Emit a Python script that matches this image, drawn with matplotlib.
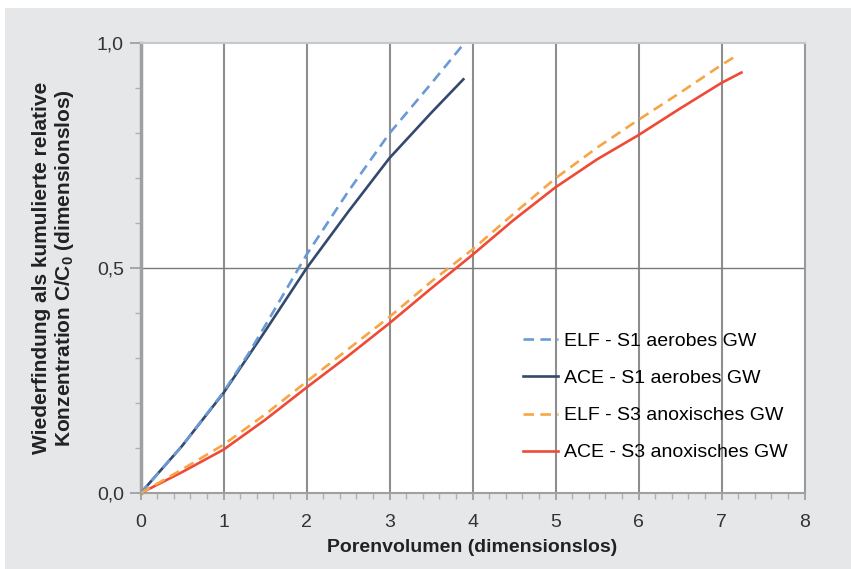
import matplotlib
matplotlib.use("Agg")
import matplotlib.pyplot as plt
from matplotlib.patches import Rectangle
from matplotlib.ticker import MultipleLocator, FuncFormatter

# Porenvolumen (x) und kumulierte relative Konzentration (y)
elf_s1_x = [0, 0.5, 1.0, 1.3, 1.5, 2.0, 2.5, 3.0, 3.5, 3.9]
elf_s1_y = [0, 0.105, 0.225, 0.31, 0.372, 0.53, 0.67, 0.80, 0.91, 1.0]

ace_s1_x = [0, 0.5, 1.0, 1.5, 2.0, 2.5, 3.0, 3.5, 3.89]
ace_s1_y = [0, 0.105, 0.223, 0.36, 0.50, 0.625, 0.745, 0.845, 0.92]

elf_s3_x = [0, 0.5, 1.0, 1.5, 2.0, 2.5, 3.0, 3.5, 4.0, 4.5, 5.0, 5.5, 6.0, 6.5, 7.0, 7.16]
elf_s3_y = [0, 0.053, 0.108, 0.175, 0.248, 0.32, 0.392, 0.47, 0.542, 0.622, 0.70,
            0.768, 0.83, 0.89, 0.952, 0.97]

ace_s3_x = [0, 0.5, 1.0, 1.5, 2.0, 2.5, 3.0, 3.5, 4.0, 4.5, 5.0, 5.5, 6.0, 6.5, 7.0, 7.24]
ace_s3_y = [0, 0.047, 0.097, 0.163, 0.235, 0.305, 0.378, 0.455, 0.53, 0.608, 0.68,
            0.742, 0.796, 0.855, 0.912, 0.935]

labels = ["ELF - S1 aerobes GW", "ACE - S1 aerobes GW",
          "ELF - S3 anoxisches GW", "ACE - S3 anoxisches GW"]

BG = "#e6e7e9"
TXT = "#222222"

plt.rcParams.update({
    "font.family": ["Liberation Sans", "DejaVu Sans"],
    "font.size": 13,
    "mathtext.fontset": "custom",
    "mathtext.rm": "Liberation Sans:bold",
    "mathtext.bf": "Liberation Sans:bold",
    "mathtext.default": "rm",
})

fig = plt.figure(figsize=(8.51, 5.69), dpi=100, facecolor="white")
fig.patches.append(Rectangle((5 / 851, 0), 1, 1 - 8 / 569, transform=fig.transFigure,
                             facecolor=BG, edgecolor="none", zorder=-10))

ax = fig.add_axes([140.5 / 851, 1 - 493.3 / 569, 664 / 851, 450 / 569])
ax.set_facecolor("white")

lw = 1.9
ax.plot(elf_s1_x, elf_s1_y, color="#6a9ad6", lw=lw, dashes=(4, 2.4), label=labels[0], zorder=4)
ax.plot(ace_s1_x, ace_s1_y, color="#34496e", lw=lw, label=labels[1], zorder=3)
ax.plot(elf_s3_x, elf_s3_y, color="#f7a545", lw=lw, dashes=(4, 2.4), label=labels[2], zorder=4)
ax.plot(ace_s3_x, ace_s3_y, color="#ef4a36", lw=lw, label=labels[3], zorder=3)

ax.set_xlim(0, 8)
ax.set_ylim(0, 1.0)
ax.xaxis.set_major_locator(MultipleLocator(1))
ax.xaxis.set_minor_locator(MultipleLocator(0.2))
ax.yaxis.set_major_locator(MultipleLocator(0.5))
ax.yaxis.set_minor_locator(MultipleLocator(0.1))
ax.yaxis.set_major_formatter(FuncFormatter(lambda v, _: f"{v:.1f}".replace(".", ",")))

for xv in range(1, 8):
    ax.axvline(xv, color="#8e8e8e", lw=1.5, zorder=1)
ax.axhline(0.5, color="#7a7a7a", lw=1.0, zorder=1)

for s in ("left", "bottom"):
    ax.spines[s].set_color("#a0a0a0")
ax.spines["left"].set_linewidth(2.5)
ax.spines["bottom"].set_linewidth(1.5)
ax.spines["top"].set_color("#c8c8c8")
ax.spines["top"].set_linewidth(1.5)
ax.spines["right"].set_color("#9a9a9a")
ax.spines["right"].set_linewidth(1.5)

ax.tick_params(axis="y", which="major", length=8, width=1.2, color="#9a9a9a",
               labelsize=14, labelcolor="#333333", pad=4)
ax.tick_params(axis="y", which="minor", length=4, width=1.0, color="#b0b0b0")
ax.tick_params(axis="x", which="major", length=5, width=1.2, color="#9a9a9a",
               labelsize=14, labelcolor="#333333", pad=10)
ax.tick_params(axis="x", which="minor", length=4, width=1.0, color="#b0b0b0")

ax.set_xlabel("Porenvolumen (dimensionslos)", fontsize=14, fontweight="bold",
              color=TXT, labelpad=6)
ax.set_ylabel("Wiederfindung als kumulierte relative\nKonzentration C/C$_0$ (dimensionslos)",
              fontsize=15, fontweight="bold", color=TXT, labelpad=15, linespacing=1.1)

ax.legend(loc="lower right", bbox_to_anchor=(0.992, 0.045), frameon=False,
          fontsize=14, handlelength=1.8, handletextpad=0.3, labelspacing=1.0,
          borderaxespad=0.2)

fig.savefig("out.png", dpi=100, facecolor="white")
